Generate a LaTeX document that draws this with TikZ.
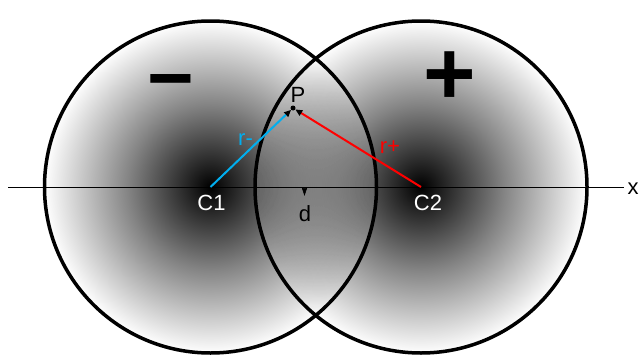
\documentclass[tikz,border=0pt]{standalone}
\usepackage{fontspec}
\setmainfont{Liberation Sans}
\usetikzlibrary{arrows.meta,fadings}

% radial fading: opaque in the middle, clear at the rim
\pgfdeclareradialshading{chargeshade}{\pgfpointorigin}{color(0bp)=(transparent!0); color(12.5bp)=(transparent!52); color(25bp)=(transparent!100); color(50bp)=(transparent!100)}
\pgfdeclarefading{chargefade}{\pgfuseshading{chargeshade}}

\definecolor{rminus}{RGB}{0,174,239}
\definecolor{rplus}{RGB}{255,0,0}

\tikzset{
  charge/.style={black, path fading=chargefade},
  rim/.style={line width=3.5pt},
  lbl/.style={anchor=base, inner sep=0pt},
  sign/.style={font=\fontsize{#1}{#1}\selectfont\bfseries, inner sep=0pt}
}

\begin{document}
\begin{tikzpicture}[x=1pt, y=-1pt, font=\fontsize{22}{26}\selectfont]

    \useasboundingbox (0,0) rectangle (639,356);

    % Radius of the two charge clouds
    \def\R{166pt}

    % Centres
    \coordinate (c1) at (210.5,187);
    \coordinate (c2) at (421,187);

    % Charge clouds
    \fill[charge] (c1) circle (\R);
    \fill[charge] (c2) circle (\R);
    % overlap a little lighter
    \begin{scope}
        \clip (c1) circle (\R);
        \fill[white, opacity=0.15] (c2) circle (\R);
    \end{scope}
    \draw[rim] (c1) circle (\R);
    \draw[rim] (c2) circle (\R);

    % Axis
    \coordinate (xstart) at (8,187);
    \coordinate (xend) at (624,187);
    \draw[line width=1pt] (xstart) -- (xend);
    \node[lbl] (xlabel) at (633,194) {x};

    % Signs
    \node[sign=80] (minus) at (170.5,90) {−};
    \node[sign=90] (plus) at (449.5,78) {+};

    % Point P and the two distances
    \node[circle, fill, inner sep=0pt, minimum size=5pt] (p) at (293,108) {};
    \node[lbl] (plabel) at (298,102) {P};
    \draw[rminus, line width=2pt, -{Triangle[color=black, length=7pt, width=6pt]}] (c1) -- (p);
    \draw[rplus, line width=2pt, -{Triangle[color=black, length=7pt, width=6pt]}] (c2) -- (p);
    \node[lbl, text=rminus] (rm) at (245.5,145) {r-};
    \node[lbl, text=rplus] (rp) at (390,153) {r+};

    % Labels on the axis
    \node[lbl, text=white] (c1label) at (211.5,210) {C1};
    \node[lbl, text=white] (c2label) at (428,210) {C2};

    % d mark
    \coordinate (dtop) at (304.5,187);
    \coordinate (dtip) at (304.5,196);
    \draw[line width=0.6pt, -{Triangle[length=8pt, width=5pt]}] (dtop) -- (dtip);
    \node[lbl] (dlabel) at (305,221) {d};

\end{tikzpicture}
\end{document}
